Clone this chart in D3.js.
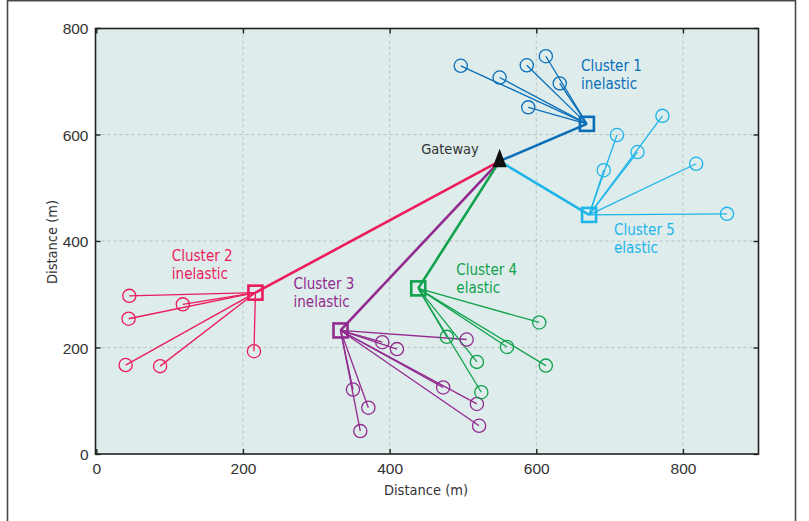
<!DOCTYPE html>
<html>
<head>
<meta charset="utf-8">
<script src="https://cdn.jsdelivr.net/npm/d3@7"></script>
<style>
  html, body { margin: 0; padding: 0; background: #fff; }
  svg { display: block; font-family: 'DejaVu Sans Condensed', 'Liberation Sans', sans-serif; }
</style>
</head>
<body>
<svg id="chart" width="809" height="521"></svg>
<script>
// ---- Data ----
const xTicks = [0, 200, 400, 600, 800];
const yTicks = [0, 200, 400, 600, 800];
const gateway = [550, 550];
const clusterNames = ["Cluster 1", "Cluster 2", "Cluster 3", "Cluster 4", "Cluster 5"];
const clusterTypes = ["inelastic", "inelastic", "inelastic", "elastic", "elastic"];
const headX = [669, 217, 333, 439, 672];
const headY = [620, 303, 232, 311, 449];
const c1X = [497, 550, 587, 613, 632, 589];
const c1Y = [729, 707, 730, 747, 696, 651];
const c2X = [45, 118, 44, 40, 87, 215];
const c2Y = [297, 281, 254, 167, 165, 193];
const c3X = [350, 371, 360, 390, 410, 505, 473, 519, 522];
const c3Y = [121, 87, 43, 210, 197, 215, 125, 94, 53];
const c4X = [604, 478, 560, 519, 613, 525];
const c4Y = [247, 220, 201, 173, 166, 116];
const c5X = [710, 772, 738, 692, 818, 860];
const c5Y = [599, 635, 567, 533, 545, 451];

// ---- Styling / layout ----
const colors = ["#0a6fb8", "#ec1b5b", "#922a8f", "#11a24c", "#1db5ea"];
const memberX = [c1X, c2X, c3X, c4X, c5X];
const memberY = [c1Y, c2Y, c3Y, c4Y, c5Y];
const labelAt = [[661, 719], [103, 362], [269, 309], [491, 336], [706, 411]];
const gatewayLabelAt = [443, 563];

const svg = d3.select("#chart");
const x = d3.scaleLinear().domain([0, 903]).range([96.3, 758.5]);
const y = d3.scaleLinear().domain([0, 800]).range([454, 28]);
const [x0, x1] = [95.5, 758.5];
const [y0, y1] = [28.5, 454];

// outer frame
svg.append("path").attr("d", `M7.5,521 V0.8 H795.5 V521`)
  .attr("fill", "none").attr("stroke", "#4a4a4a").attr("stroke-width", 1.6);

// plot background
svg.append("rect").attr("x", x0).attr("y", y0).attr("width", x1 - x0).attr("height", y1 - y0)
  .attr("fill", "#deecec");

// grid
const grid = svg.append("g").attr("stroke", "#b9c2c2").attr("stroke-width", 1).attr("stroke-dasharray", "3,3");
xTicks.filter(t => t > 0).forEach(t => {
  grid.append("line").attr("x1", x(t)).attr("x2", x(t)).attr("y1", y0).attr("y2", y1);
});
yTicks.filter(t => t > 0 && t < 800).forEach(t => {
  grid.append("line").attr("x1", x0).attr("x2", x1).attr("y1", y(t)).attr("y2", y(t));
});

// axes (inward ticks on all four sides)
const tickFmt = d3.format("d");
const axB = svg.append("g").attr("transform", `translate(0,${y1})`)
  .call(d3.axisBottom(x).tickValues(xTicks).tickSizeInner(-5).tickSizeOuter(0).tickPadding(9).tickFormat(tickFmt));
const axT = svg.append("g").attr("transform", `translate(0,${y0})`)
  .call(d3.axisTop(x).tickValues(xTicks).tickSizeInner(-5).tickSizeOuter(0).tickFormat(""));
const axL = svg.append("g").attr("transform", `translate(${x0},0)`)
  .call(d3.axisLeft(y).tickValues(yTicks).tickSizeInner(-5).tickSizeOuter(0).tickPadding(7).tickFormat(tickFmt));
const axR = svg.append("g").attr("transform", `translate(${x1},0)`)
  .call(d3.axisRight(y).tickValues(yTicks).tickSizeInner(-5).tickSizeOuter(0).tickFormat(""));
[axB, axT, axL, axR].forEach(a => {
  a.select(".domain").remove();
  a.selectAll(".tick line").attr("stroke", "#222").attr("stroke-width", 1.4);
  a.selectAll("text").attr("fill", "#333").style("font-size", "15.5px").style("font-family", "inherit");
});
axL.selectAll("text").attr("dy", "0.36em");
svg.append("rect").attr("x", x0).attr("y", y0).attr("width", x1 - x0).attr("height", y1 - y0)
  .attr("fill", "none").attr("stroke", "#222").attr("stroke-width", 1.6);

// axis titles
svg.append("text").attr("x", 426).attr("y", 495).attr("text-anchor", "middle")
  .attr("fill", "#333").style("font-size", "14.5px").text("Distance (m)");
svg.append("text").attr("transform", `translate(57,242) rotate(-90)`).attr("text-anchor", "middle")
  .attr("fill", "#333").style("font-size", "14.5px").text("Distance (m)");

// member links
clusterNames.forEach((name, i) => {
  const g = svg.append("g");
  memberX[i].forEach((mx, j) => {
    g.append("line")
      .attr("x1", x(mx)).attr("y1", y(memberY[i][j]))
      .attr("x2", x(headX[i])).attr("y2", y(headY[i]))
      .attr("stroke", colors[i]).attr("stroke-width", 1.3);
  });
});
// backbone links
clusterNames.forEach((name, i) => {
  svg.append("line")
    .attr("x1", x(gateway[0])).attr("y1", y(gateway[1]))
    .attr("x2", x(headX[i])).attr("y2", y(headY[i]))
    .attr("stroke", colors[i]).attr("stroke-width", 2.6);
});
// member circles
clusterNames.forEach((name, i) => {
  memberX[i].forEach((mx, j) => {
    svg.append("circle").attr("cx", x(mx)).attr("cy", y(memberY[i][j])).attr("r", 6.6)
      .attr("fill", "none").attr("stroke", colors[i]).attr("stroke-width", 1.3);
  });
});
// head squares
clusterNames.forEach((name, i) => {
  svg.append("rect").attr("x", x(headX[i]) - 7).attr("y", y(headY[i]) - 7)
    .attr("width", 14).attr("height", 14)
    .attr("fill", "none").attr("stroke", colors[i]).attr("stroke-width", 2.6);
});
// gateway triangle (centroid at gateway point)
{
  const gx = x(gateway[0]), gy = y(gateway[1]);
  svg.append("path")
    .attr("d", `M${gx},${gy - 12.3} L${gx + 7},${gy + 6.2} L${gx - 7},${gy + 6.2} Z`)
    .attr("fill", "#111");
}
// labels
clusterNames.forEach((name, i) => {
  const t = svg.append("text").attr("x", x(labelAt[i][0])).attr("y", y(labelAt[i][1]))
    .attr("fill", colors[i]).style("font-size", "15px");
  t.append("tspan").attr("x", x(labelAt[i][0])).text(name);
  t.append("tspan").attr("x", x(labelAt[i][0])).attr("dy", 18).text(clusterTypes[i]);
});
svg.append("text").attr("x", x(gatewayLabelAt[0])).attr("y", y(gatewayLabelAt[1]))
  .attr("fill", "#333").style("font-size", "14.5px").text("Gateway");
</script>
</body>
</html>
